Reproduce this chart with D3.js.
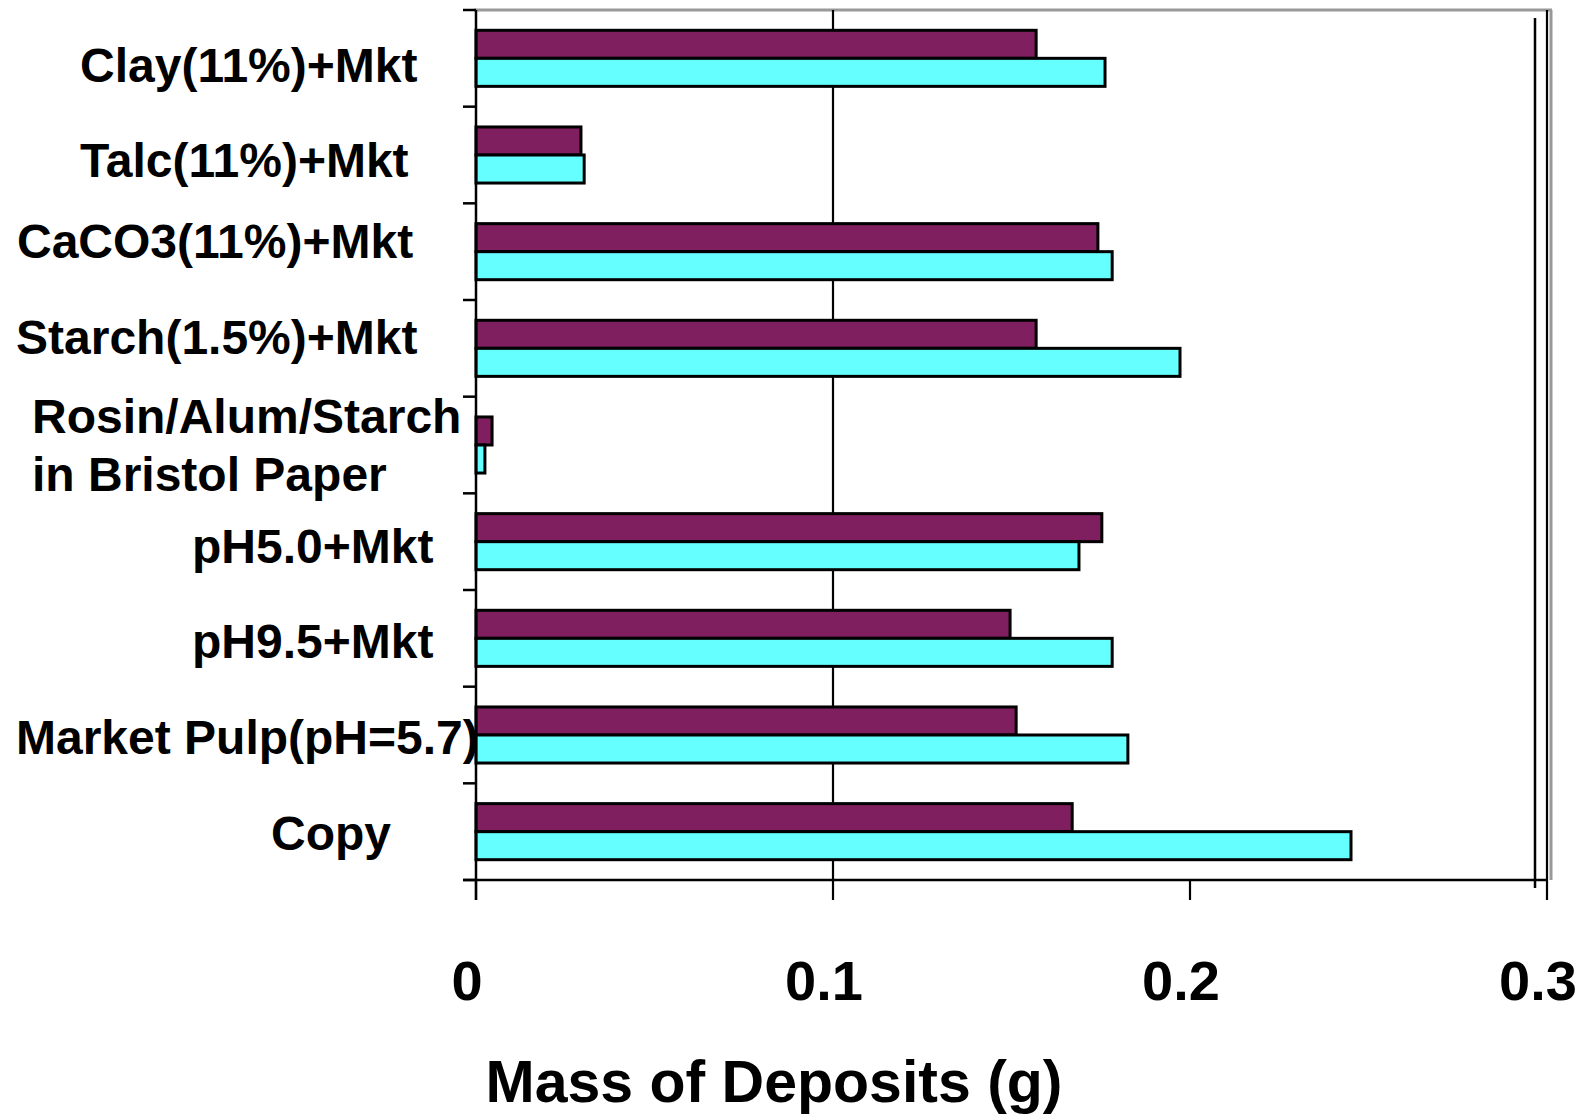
<!DOCTYPE html>
<html>
<head>
<meta charset="utf-8">
<script src="https://cdn.jsdelivr.net/npm/d3@7/dist/d3.min.js"></script>
<style>
  body { margin: 0; background: #fff; }
  svg { display: block; font-family: "Liberation Sans", Arial, sans-serif; font-weight: bold; }
</style>
</head>
<body>
<svg id="chart"></svg>
<script>
// categories, top to bottom
const categories = [
  "Clay(11%)+Mkt",
  "Talc(11%)+Mkt",
  "CaCO3(11%)+Mkt",
  "Starch(1.5%)+Mkt",
  "Rosin/Alum/Starch\nin Bristol Paper",
  "pH5.0+Mkt",
  "pH9.5+Mkt",
  "Market Pulp(pH=5.7)",
  "Copy"
];
// purple series (upper bar) and cyan series (lower bar), grams
const seriesA = [0.1569, 0.0294, 0.1742, 0.1569, 0.0045, 0.1753, 0.1496, 0.1513, 0.1670];
const seriesB = [0.1762, 0.0303, 0.1782, 0.1972, 0.0025, 0.1689, 0.1782, 0.1826, 0.2451];
const xTicks = [0, 0.1, 0.2, 0.3];
const gridTicks = [0.1, 0.3];
const xTitle = "Mass of Deposits (g)";

// label layout (left edge, baseline offset from band centre) - labels were placed by hand in the original
const labelLeft = [80, 80, 17, 16, 32, 192, 192, 16, 271];
const labelDy = [24, 22, 6, 6, -12, 21, 20, 19, 18];

const width = 1587, height = 1115;
const plotL = 476, plotR = 1547, plotT = 10, plotB = 880;

const svg = d3.select("#chart").attr("width", width).attr("height", height);

const x = d3.scaleLinear().domain([0, 0.3]).range([plotL, plotR]);
const y = d3.scaleBand().domain(d3.range(categories.length)).range([plotT, plotB]).paddingInner(0.42).paddingOuter(0.21);
const sub = d3.scaleBand().domain([0, 1]).range([0, y.bandwidth()]);
const step = y.step();

// frame
svg.append("line").attr("x1", plotL - 2).attr("x2", plotR + 5).attr("y1", plotT).attr("y2", plotT)
  .attr("stroke", "#999").attr("stroke-width", 3);
svg.append("line").attr("x1", plotR + 4).attr("x2", plotR + 4).attr("y1", plotT).attr("y2", plotB)
  .attr("stroke", "#999").attr("stroke-width", 3);
svg.append("line").attr("x1", 1535).attr("x2", 1535).attr("y1", plotT + 8).attr("y2", plotB + 8)
  .attr("stroke", "#000").attr("stroke-width", 2.5);

// vertical gridlines
svg.selectAll("line.grid").data(gridTicks).enter().append("line").attr("class", "grid")
  .attr("x1", d => x(d)).attr("x2", d => x(d))
  .attr("y1", plotT).attr("y2", plotB)
  .attr("stroke", "#000").attr("stroke-width", 2.2);

// x ticks below axis
svg.selectAll("line.xtick").data(xTicks).enter().append("line").attr("class", "xtick")
  .attr("x1", d => x(d)).attr("x2", d => x(d))
  .attr("y1", plotB).attr("y2", plotB + 20)
  .attr("stroke", "#000").attr("stroke-width", 2.2);

// bottom axis line
svg.append("line").attr("x1", plotL - 13).attr("x2", plotR + 1).attr("y1", plotB).attr("y2", plotB)
  .attr("stroke", "#000").attr("stroke-width", 2.5);

// category ticks on left
svg.selectAll("line.ctick").data(d3.range(categories.length + 1)).enter().append("line").attr("class", "ctick")
  .attr("x1", plotL - 13).attr("x2", plotL)
  .attr("y1", d => plotT + d * step).attr("y2", d => plotT + d * step)
  .attr("stroke", "#000").attr("stroke-width", 2.5);

// bars
const groups = svg.selectAll("g.cat").data(categories).enter().append("g").attr("class", "cat")
  .attr("transform", (d, i) => `translate(0,${y(i)})`);

groups.append("rect")
  .attr("x", x(0)).attr("y", sub(0))
  .attr("width", (d, i) => x(seriesA[i]) - x(0)).attr("height", sub.bandwidth())
  .attr("fill", "#7F1F5F").attr("stroke", "#000").attr("stroke-width", 3);

groups.append("rect")
  .attr("x", x(0)).attr("y", sub(1))
  .attr("width", (d, i) => x(seriesB[i]) - x(0)).attr("height", sub.bandwidth())
  .attr("fill", "#66FFFF").attr("stroke", "#000").attr("stroke-width", 3);

// left axis line
svg.append("line").attr("x1", plotL).attr("x2", plotL).attr("y1", plotT).attr("y2", plotB + 20)
  .attr("stroke", "#000").attr("stroke-width", 2.5);

// category labels
svg.selectAll("text.cat").data(categories).enter().append("text").attr("class", "cat")
  .attr("x", (d, i) => labelLeft[i])
  .attr("y", (d, i) => y(i) + y.bandwidth() / 2 + labelDy[i])
  .attr("font-size", 48)
  .attr("fill", "#000")
  .each(function(d, i) {
    const lines = d.split("\n");
    lines.forEach((t, k) => {
      d3.select(this).append("tspan").attr("x", labelLeft[i]).attr("dy", k === 0 ? 0 : 58).text(t);
    });
  });

// x tick labels
svg.selectAll("text.xt").data(xTicks).enter().append("text").attr("class", "xt")
  .attr("x", d => x(d) - 9).attr("y", 1000)
  .attr("text-anchor", "middle").attr("font-size", 56).attr("fill", "#000")
  .text(d => d === 0 ? "0" : d3.format(".1f")(d));

// axis title
svg.append("text").attr("x", 774).attr("y", 1102)
  .attr("text-anchor", "middle").attr("font-size", 59).attr("fill", "#000")
  .text(xTitle);
</script>
</body>
</html>
